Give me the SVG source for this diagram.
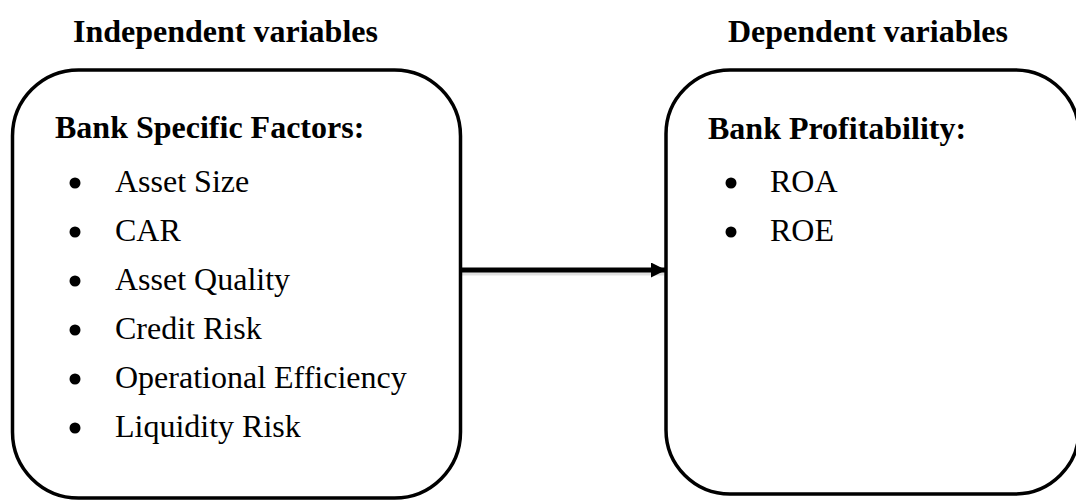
<svg xmlns="http://www.w3.org/2000/svg" width="1076" height="502" viewBox="0 0 1076 502">
<style>
.box{fill:#fff;stroke:#000;stroke-width:3.5}
.h{font-family:"Liberation Serif","Times New Roman",serif;font-weight:bold;font-size:32px;fill:#000}
.t{font-family:"Liberation Serif","Times New Roman",serif;font-size:32px;fill:#000}
.b{fill:#000}
</style>
<defs>
<marker id="ah" viewBox="0 0 10 10" refX="10" refY="5" markerWidth="3" markerHeight="3" orient="auto" markerUnits="strokeWidth">
<path d="M0,0 L10,5 L0,10 Z" fill="#000"/>
</marker>
</defs>
<text class="h" x="73" y="42">Independent variables</text>
<text class="h" x="728" y="42">Dependent variables</text>
<g id="independent">
<rect class="box" x="12.5" y="70" width="448" height="428" rx="66" ry="66"/>
<text class="h" x="55" y="138">Bank Specific Factors:</text>
<circle class="b" cx="75" cy="183" r="5.5"/><text class="t" x="115" y="192">Asset Size</text>
<circle class="b" cx="75" cy="232" r="5.5"/><text class="t" x="115" y="241">CAR</text>
<circle class="b" cx="75" cy="281" r="5.5"/><text class="t" x="115" y="290">Asset Quality</text>
<circle class="b" cx="75" cy="330" r="5.5"/><text class="t" x="115" y="339">Credit Risk</text>
<circle class="b" cx="75" cy="379" r="5.5"/><text class="t" x="115" y="388">Operational Efficiency</text>
<circle class="b" cx="75" cy="428" r="5.5"/><text class="t" x="115" y="437">Liquidity Risk</text>
</g>
<g id="dependent">
<rect class="box" x="666" y="70" width="413" height="424" rx="64" ry="64"/>
<text class="h" x="708" y="139">Bank Profitability:</text>
<circle class="b" cx="731" cy="183" r="5.5"/><text class="t" x="770" y="192">ROA</text>
<circle class="b" cx="731" cy="232" r="5.5"/><text class="t" x="770" y="241">ROE</text>
</g>
<g id="connectors">
<line x1="462" y1="273" x2="664" y2="273" stroke="#000" stroke-opacity="0.12" stroke-width="5"/>
<line x1="462" y1="270" x2="666" y2="270" stroke="#000" stroke-width="5" marker-end="url(#ah)"/>
</g>
</svg>
